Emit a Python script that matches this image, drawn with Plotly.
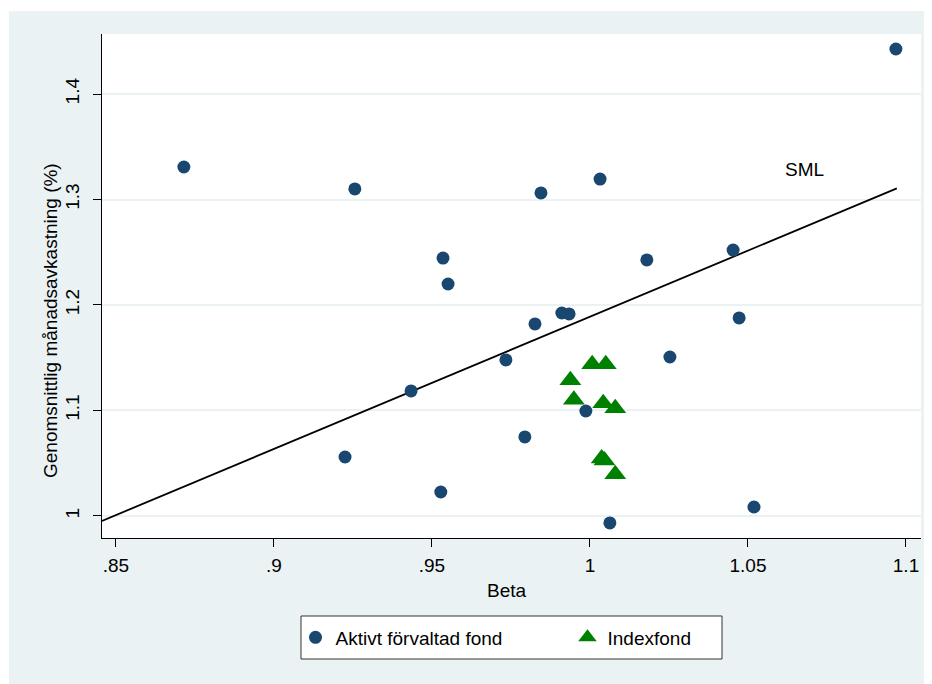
import plotly.graph_objects as go

# ---- data ----
aktiv_beta = [0.8715, 0.9256, 1.0968, 0.9845, 1.0032, 0.9535, 0.9551, 1.0180, 1.0453, 0.9826, 0.9911,
              0.9934, 1.0472, 0.9734, 1.0253, 0.9434, 0.9987, 0.9794, 0.9225, 0.9528, 1.0063, 1.0519]
aktiv_ret = [1.3308, 1.3100, 1.4427, 1.3062, 1.3194, 1.2445, 1.2199, 1.2427, 1.2521, 1.1820, 1.1924,
             1.1915, 1.1877, 1.1479, 1.1507, 1.1185, 1.0995, 1.0749, 1.0559, 1.0227, 0.9934, 1.0085]

index_beta = [1.0007, 1.0050, 0.9938, 0.9949, 1.0042, 1.0080, 1.0037, 1.0046, 1.0080]
index_ret = [1.1439, 1.1439, 1.1286, 1.1101, 1.1068, 1.1022, 1.0545, 1.0525, 1.0396]

sml_beta = [0.8456, 1.0971]
sml_ret = [0.9953, 1.3106]

x_tickvals = [0.85, 0.9, 0.95, 1.0, 1.05, 1.1]
x_ticktext = [".85", ".9", ".95", "1", "1.05", "1.1"]
y_tickvals = [1.0, 1.1, 1.2, 1.3, 1.4]
y_ticktext = ["1", "1.1", "1.2", "1.3", "1.4"]

# ---- layout geometry (page pixels; the figure sits 8px in from the page corner) ----
OFF = 8
W, H = 932 - OFF, 684 - OFF
L, R, T, B = 102, 921, 34, 538          # plot area in page pixels
PW, PH = R - L, B - T


def px(x):
    return (x - L) / PW


def py(y):
    return (B - y) / PH


BG = "#EAF2F3"
NAVY = "#1A476F"
GREEN = "#008000"
FONT = "Liberation Sans, Arial, sans-serif"
FS = 19

fig = go.Figure()

fig.add_trace(go.Scatter(
    x=sml_beta, y=sml_ret, mode="lines",
    line=dict(color="black", width=1.8), showlegend=False, hoverinfo="skip"))

fig.add_trace(go.Scatter(
    x=aktiv_beta, y=aktiv_ret, mode="markers", name="Aktivt förvaltad fond",
    marker=dict(symbol="circle", size=13, color=NAVY, line=dict(width=0))))

fig.add_trace(go.Scatter(
    x=index_beta, y=index_ret, mode="markers", name="Indexfond",
    marker=dict(symbol="triangle-up", size=19, color=GREEN, line=dict(width=0))))

shapes = [
    # thin white border strips (image crop)
    dict(type="rect", xref="paper", yref="paper", x0=px(OFF), x1=px(OFF + W), y0=py(11), y1=py(OFF),
         fillcolor="white", line=dict(width=0), layer="below"),
    dict(type="rect", xref="paper", yref="paper", x0=px(OFF), x1=px(9), y0=py(OFF + H), y1=py(OFF),
         fillcolor="white", line=dict(width=0), layer="below"),
    # legend box
    dict(type="rect", xref="paper", yref="paper", x0=px(301), x1=px(722), y0=py(659), y1=py(616),
         fillcolor="white", line=dict(color="#333333", width=1), layer="below"),
]

annotations = [
    dict(text="SML", x=1.068, y=1.328, xref="x", yref="y", showarrow=False,
         font=dict(family=FONT, size=FS, color="black")),
    dict(text="Beta", x=px(507), y=py(590), xref="paper", yref="paper", showarrow=False,
         xanchor="center", yanchor="middle", font=dict(family=FONT, size=FS, color="black")),
    dict(text="Genomsnittlig månadsavkastning (%)", x=px(50), y=py(321), xref="paper", yref="paper",
         showarrow=False, textangle=-90, xanchor="center", yanchor="middle",
         font=dict(family=FONT, size=FS, color="black")),
]

fig.update_layout(
    width=W, height=H,
    margin=dict(l=L - OFF, r=OFF + W - R, t=T - OFF, b=OFF + H - B, pad=0),
    paper_bgcolor=BG, plot_bgcolor="white",
    font=dict(family=FONT, size=FS, color="black"),
    shapes=shapes, annotations=annotations,
    showlegend=True,
    legend=dict(orientation="h", x=px(295.5), xanchor="left", y=py(637.5), yanchor="middle",
                bgcolor="rgba(0,0,0,0)", borderwidth=0, entrywidth=227, entrywidthmode="pixels",
                font=dict(family=FONT, size=FS, color="black")),
    xaxis=dict(range=[0.8456, 1.10475], tickvals=x_tickvals, ticktext=x_ticktext,
               showgrid=False, zeroline=False, showline=True, linecolor="black", linewidth=1.3,
               ticks="outside", ticklen=8, tickwidth=1.3, tickcolor="black", ticklabelstandoff=2,
               tickfont=dict(family=FONT, size=FS, color="black")),
    yaxis=dict(range=[0.9791, 1.4569], tickvals=y_tickvals, ticktext=y_ticktext, tickangle=-90,
               showgrid=True, gridcolor=BG, gridwidth=1.6, zeroline=False,
               showline=True, linecolor="black", linewidth=1.3,
               ticks="outside", ticklen=8, tickwidth=1.3, tickcolor="black", ticklabelstandoff=6,
               tickfont=dict(family=FONT, size=FS, color="black")),
)

fig.write_html("out.html")
